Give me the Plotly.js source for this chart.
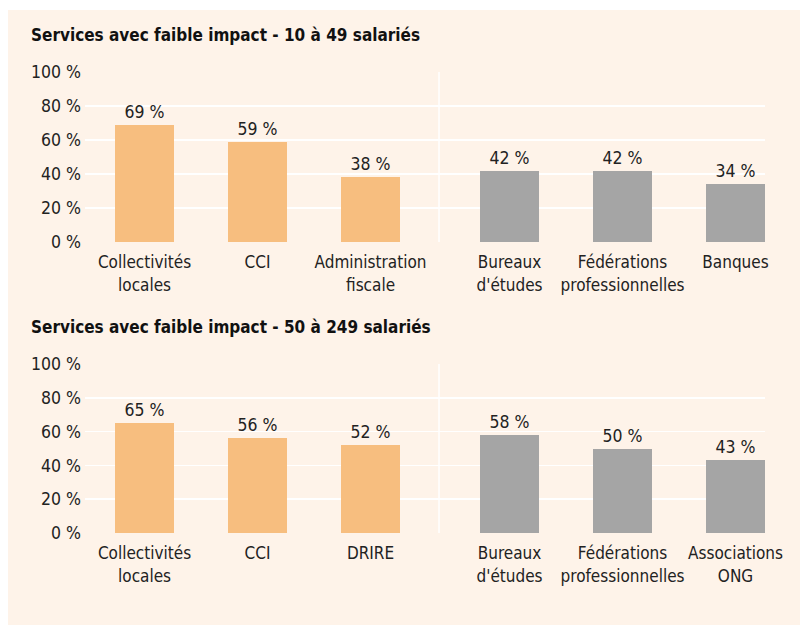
<!DOCTYPE html>
<html>
<head>
<meta charset="utf-8">
<script src="https://cdn.plot.ly/plotly-3.0.1.min.js"></script>
<style>html,body{margin:0;padding:0;background:#fff;}#chart{width:800px;height:625px;}</style>
</head>
<body>
<div id="chart"></div>
<script>
// ---- Data ----
const title1 = "Services avec faible impact - 10 à 49 salariés";
const title2 = "Services avec faible impact - 50 à 249 salariés";

const top_public_labels = ["Collectivités<br>locales", "CCI", "Administration<br>fiscale"];
const top_public_values = [69, 59, 38];
const top_private_labels = ["Bureaux<br>d'études", "Fédérations<br>professionnelles", "Banques"];
const top_private_values = [42, 42, 34];

const bot_public_labels = ["Collectivités<br>locales", "CCI", "DRIRE"];
const bot_public_values = [65, 56, 52];
const bot_private_labels = ["Bureaux<br>d'études", "Fédérations<br>professionnelles", "Associations<br>ONG"];
const bot_private_values = [58, 50, 43];

const yTicks = [0, 20, 40, 60, 80, 100];
const yTickText = ["0 %", "20 %", "40 %", "60 %", "80 %", "100 %"];

// ---- Styling ----
const FONT = "DejaVu Sans Condensed, DejaVu Sans, sans-serif";
const ORANGE = "#f7be7f";
const GREY = "#a5a5a5";
const CREAM = "#fef3e9";
const GAP = 0.23;           // extra spacing between the two groups
const SEP = 2.606;          // separator position between groups
const XR = [-0.527, 5.491];

function pos(n, offset) { return Array.from({length: n}, (_, i) => i + offset); }

function groupTraces(pubL, pubV, privL, privV, xa, ya) {
  const xp = pos(pubV.length, 0);
  const xq = pos(privV.length, pubV.length + GAP);
  const common = {
    type: "bar", width: 0.522, xaxis: xa, yaxis: ya,
    texttemplate: "%{text}", textposition: "outside", cliponaxis: false,
    textfont: {family: FONT, size: 17.5, color: "#222"},
    hoverinfo: "skip", showlegend: false
  };
  return {
    traces: [
      Object.assign({}, common, {x: xp, y: pubV, text: pubV.map(v => v + " %"), marker: {color: ORANGE}}),
      Object.assign({}, common, {x: xq, y: privV, text: privV.map(v => v + " %"), marker: {color: GREY}})
    ],
    tickvals: xp.concat(xq),
    ticktext: pubL.concat(privL)
  };
}

const g1 = groupTraces(top_public_labels, top_public_values, top_private_labels, top_private_values, "x", "y");
const g2 = groupTraces(bot_public_labels, bot_public_values, bot_private_labels, bot_private_values, "x2", "y2");

function xaxis(g, anchor) {
  return {
    domain: [85/800, 765/800], anchor: anchor, range: XR,
    tickmode: "array", tickvals: g.tickvals, ticktext: g.ticktext, showgrid: false, zeroline: false,
    showline: false, ticks: "outside", ticklen: 5, tickcolor: "rgba(0,0,0,0)",
    tickfont: {family: FONT, size: 17, color: "#222"}, fixedrange: true
  };
}
function yaxis(dom, anchor) {
  return {
    domain: dom, anchor: anchor, range: [0, 100], tickmode: "array", tickvals: yTicks, ticktext: yTickText,
    showgrid: true, gridcolor: "#ffffff", gridwidth: 1.5, zeroline: false, showline: false,
    ticks: "", ticklabelstandoff: 3,
    tickfont: {family: FONT, size: 17.5, color: "#222"}, fixedrange: true
  };
}

const layout = {
  width: 800, height: 625,
  margin: {l: 0, r: 0, t: 0, b: 0},
  paper_bgcolor: "#ffffff", plot_bgcolor: "rgba(0,0,0,0)",
  bargap: 0,
  xaxis: xaxis(g1, "y"),
  yaxis: yaxis([(625-242)/625, (625-72)/625], "x"),
  xaxis2: xaxis(g2, "y2"),
  yaxis2: yaxis([(625-533)/625, (625-364)/625], "x2"),
  shapes: [
    {type: "rect", xref: "paper", yref: "paper", x0: 8/800, x1: 1, y0: 0, y1: (625-10)/625,
     fillcolor: CREAM, line: {width: 0}, layer: "below"},
    {type: "line", xref: "x", yref: "y", x0: SEP, x1: SEP, y0: 0, y1: 100,
     line: {color: "#ffffff", width: 1.5}, layer: "below"},
    {type: "line", xref: "x2", yref: "y2", x0: SEP, x1: SEP, y0: 0, y1: 100,
     line: {color: "#ffffff", width: 1.5}, layer: "below"}
  ],
  annotations: [
    {text: "<b>" + title1 + "</b>", xref: "paper", yref: "paper", x: 29/800, y: (625-35)/625,
     xanchor: "left", yanchor: "middle", showarrow: false, font: {family: FONT, size: 17, color: "#111"}},
    {text: "<b>" + title2 + "</b>", xref: "paper", yref: "paper", x: 29/800, y: (625-327)/625,
     xanchor: "left", yanchor: "middle", showarrow: false, font: {family: FONT, size: 17, color: "#111"}}
  ]
};

Plotly.newPlot("chart", g1.traces.concat(g2.traces), layout, {displayModeBar: false, staticPlot: true});
</script>
</body>
</html>
